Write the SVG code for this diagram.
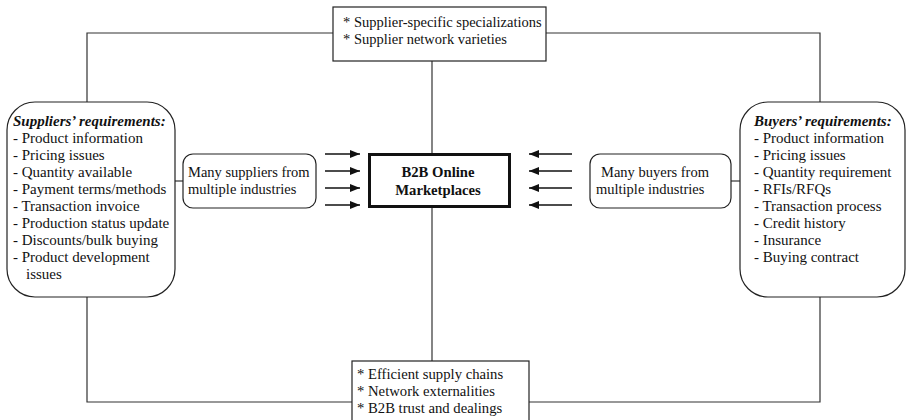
<svg xmlns="http://www.w3.org/2000/svg" width="906" height="420" viewBox="0 0 906 420">
<defs>
<marker id="ah" markerWidth="10" markerHeight="8" refX="10" refY="4" orient="auto" markerUnits="userSpaceOnUse">
<path d="M0,0 L10,4 L0,8 Z" fill="#111"/>
</marker>
<style>
.box{fill:#fff;stroke:#222;stroke-width:1.2}
.main{fill:#fff;stroke:#111;stroke-width:3}
.ln{fill:none;stroke:#333;stroke-width:1.2}
.arr{fill:none;stroke:#111;stroke-width:1.6;marker-end:url(#ah)}
text{font-family:"Liberation Serif","Times New Roman",serif;font-size:14.7px;fill:#111}
.req{font-size:15px}
.h{font-weight:bold;font-style:italic}
.b{font-weight:bold;text-anchor:middle}
</style>
</defs>
<rect width="906" height="420" fill="#fff"/>
<g id="connectors">
<polyline class="ln" points="333,33 87,33 87,102"/>
<polyline class="ln" points="546,33 820,33 820,102"/>
<polyline class="ln" points="87,297 87,402 352,402"/>
<polyline class="ln" points="820,297 820,402 529,402"/>
<line class="ln" x1="432" y1="61" x2="432" y2="153"/>
<line class="ln" x1="432" y1="208" x2="432" y2="361"/>
<line class="ln" x1="175" y1="181" x2="183" y2="181"/>
<line class="ln" x1="731" y1="181" x2="740" y2="181"/>
<line class="arr" x1="325" y1="154" x2="360" y2="154"/>
<line class="arr" x1="325" y1="171" x2="360" y2="171"/>
<line class="arr" x1="325" y1="188" x2="360" y2="188"/>
<line class="arr" x1="325" y1="205" x2="360" y2="205"/>
<line class="arr" x1="572" y1="154" x2="529" y2="154"/>
<line class="arr" x1="572" y1="171" x2="529" y2="171"/>
<line class="arr" x1="572" y1="188" x2="529" y2="188"/>
<line class="arr" x1="572" y1="205" x2="529" y2="205"/>
</g>
<g id="top-box">
<rect class="box" x="333" y="7" width="213" height="54"/>
<text x="343" y="27" style="font-size:14.5px">* Supplier-specific specializations</text>
<text x="343" y="44" style="font-size:14.5px">* Supplier network varieties</text>
</g>
<g id="bottom-box">
<rect class="box" x="352" y="361" width="177" height="70"/>
<text x="357" y="379">* Efficient supply chains</text>
<text x="357" y="396">* Network externalities</text>
<text x="357" y="413">* B2B trust and dealings</text>
</g>
<g id="suppliers-req">
<rect class="box" x="7" y="102" width="168" height="195" rx="28" ry="28"/>
<text class="req h" x="13" y="126">Suppliers’ requirements:</text>
<text class="req" x="13" y="143">- Product information</text>
<text class="req" x="13" y="160">- Pricing issues</text>
<text class="req" x="13" y="177">- Quantity available</text>
<text class="req" x="13" y="194">- Payment terms/methods</text>
<text class="req" x="13" y="211">- Transaction invoice</text>
<text class="req" x="13" y="228">- Production status update</text>
<text class="req" x="13" y="245">- Discounts/bulk buying</text>
<text class="req" x="13" y="262">- Product development</text>
<text class="req" x="26" y="279">issues</text>
</g>
<g id="buyers-req">
<rect class="box" x="740" y="102" width="165" height="195" rx="28" ry="28"/>
<text class="req h" x="754" y="126">Buyers’ requirements:</text>
<text class="req" x="754" y="143">- Product information</text>
<text class="req" x="754" y="160">- Pricing issues</text>
<text class="req" x="754" y="177">- Quantity requirement</text>
<text class="req" x="754" y="194">- RFIs/RFQs</text>
<text class="req" x="754" y="211">- Transaction process</text>
<text class="req" x="754" y="228">- Credit history</text>
<text class="req" x="754" y="245">- Insurance</text>
<text class="req" x="754" y="262">- Buying contract</text>
</g>
<g id="many-suppliers">
<rect class="box" x="183" y="154" width="133" height="54" rx="10" ry="10"/>
<text x="188" y="177" style="font-size:14.5px">Many suppliers from</text>
<text x="188" y="194" style="font-size:14.5px">multiple industries</text>
</g>
<g id="many-buyers">
<rect class="box" x="590" y="154" width="141" height="54" rx="10" ry="10"/>
<text x="601" y="177" style="font-size:14.5px">Many buyers from</text>
<text x="596" y="194" style="font-size:14.5px">multiple industries</text>
</g>
<g id="b2b">
<rect class="main" x="369.5" y="154.5" width="140" height="52"/>
<text class="b" x="438" y="177">B2B Online</text>
<text class="b" x="438" y="195">Marketplaces</text>
</g>
</svg>
